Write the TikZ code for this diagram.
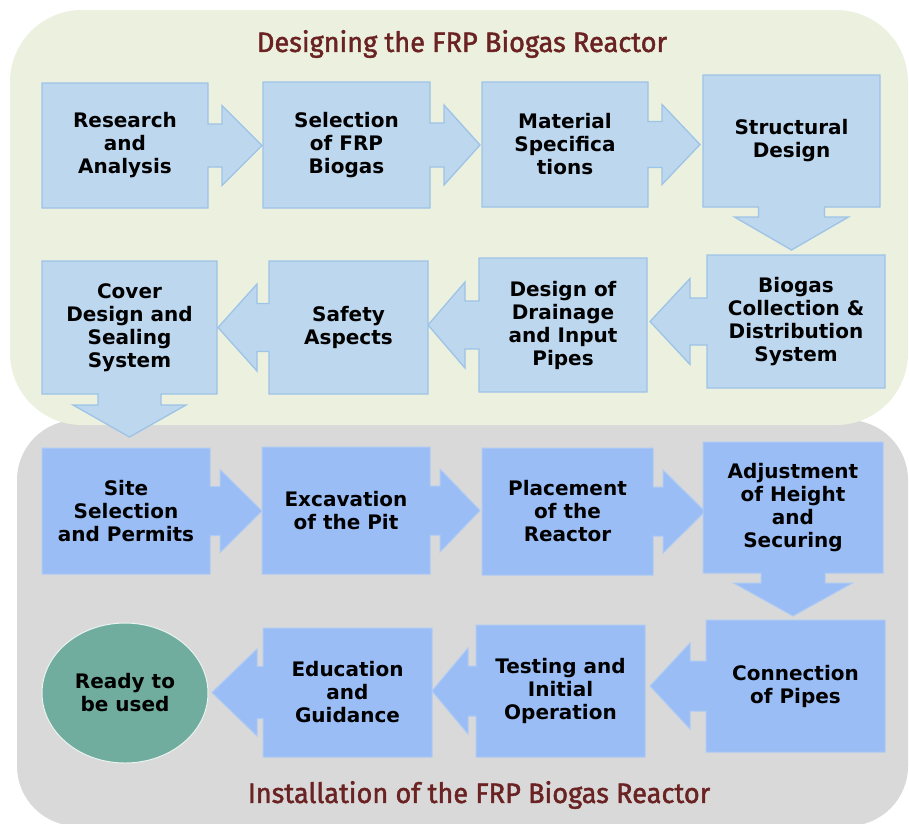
\documentclass[tikz,border=0pt]{standalone}
\usepackage{fontspec}
\setmainfont{DejaVu Sans}
\newfontfamily\titlefont[FakeStretch=0.97,FakeBold=1.6]{Fira Sans}
\usetikzlibrary{calc,shapes.geometric}

\definecolor{panelgreen}{HTML}{EBF1DE}
\definecolor{panelgray}{HTML}{D9D9D9}
\definecolor{boxblue}{HTML}{BDD7EE}
\definecolor{boxedge}{HTML}{9DC3E6}
\definecolor{boxdeep}{HTML}{9BBDF5}
\definecolor{boxdeepedge}{HTML}{AECBF5}
\definecolor{endteal}{HTML}{70AD9E}
\definecolor{titlered}{HTML}{6B2222}

\pgfdeclarelayer{panel}
\pgfdeclarelayer{shape}
\pgfsetlayers{panel,shape,main}

% Box with an arrow growing out of one side.
% #1 node, #2 shaft length, #3 head length, #4 shaft half width, #5 head half width, #6 style
\newcommand\calloutR[6]{%
  \path[#6] (#1.north west) -- (#1.north east)
    -- ($(#1.east)+(0pt,#4pt)$) -- ($(#1.east)+(#2pt,#4pt)$)
    -- ($(#1.east)+(#2pt,#5pt)$) -- ($(#1.east)+(#2pt+#3pt,0pt)$)
    -- ($(#1.east)+(#2pt,-#5pt)$) -- ($(#1.east)+(#2pt,-#4pt)$)
    -- ($(#1.east)+(0pt,-#4pt)$) -- (#1.south east) -- (#1.south west) -- cycle;}
\newcommand\calloutL[6]{%
  \path[#6] (#1.north east) -- (#1.north west)
    -- ($(#1.west)+(0pt,#4pt)$) -- ($(#1.west)+(-#2pt,#4pt)$)
    -- ($(#1.west)+(-#2pt,#5pt)$) -- ($(#1.west)+(-#2pt-#3pt,0pt)$)
    -- ($(#1.west)+(-#2pt,-#5pt)$) -- ($(#1.west)+(-#2pt,-#4pt)$)
    -- ($(#1.west)+(0pt,-#4pt)$) -- (#1.south west) -- (#1.south east) -- cycle;}
\newcommand\calloutD[6]{%
  \path[#6] (#1.north west) -- (#1.north east) -- (#1.south east)
    -- ($(#1.south)+(#4pt,0pt)$) -- ($(#1.south)+(#4pt,-#2pt)$)
    -- ($(#1.south)+(#5pt,-#2pt)$) -- ($(#1.south)+(0pt,-#2pt-#3pt)$)
    -- ($(#1.south)+(-#5pt,-#2pt)$) -- ($(#1.south)+(-#4pt,-#2pt)$)
    -- ($(#1.south)+(-#4pt,0pt)$) -- (#1.south west) -- cycle;}

\begin{document}
\begin{tikzpicture}[x=1pt,y=-1pt,
  stepbox/.style={rectangle, inner sep=0pt, outer sep=0pt, align=center,
    font=\fontsize{20}{23}\selectfont\bfseries, text=black},
  upper/.style={fill=boxblue, draw=boxedge, line width=1.3pt},
  lower/.style={fill=boxdeep, draw=boxdeepedge, line width=1pt},
  heading/.style={font=\titlefont\fontsize{28}{30}\selectfont, text=titlered}]

\useasboundingbox (0,0) rectangle (909,823);

% ---- process steps: design phase ----
\node[stepbox, minimum width=166pt, minimum height=125pt] (b1) at (125,145.5) {Research\\and\\Analysis};
\node[stepbox, minimum width=167pt, minimum height=126pt] (b2) at (346.5,145) {Selection\\of FRP\\Biogas};
\node[stepbox, minimum width=166pt, minimum height=125pt] (b3) at (565,144.5) {Material\\Specifica\\tions};
\node[stepbox, minimum width=177pt, minimum height=132pt] (b4) at (791.5,141) {Structural\\Design};
\node[stepbox, minimum width=178pt, minimum height=133pt] (b5) at (796,321.5) {Biogas\\Collection \&\\Distribution\\System};
\node[stepbox, minimum width=168pt, minimum height=134pt] (b6) at (563,325) {Design of\\Drainage\\and Input\\Pipes};
\node[stepbox, minimum width=159pt, minimum height=133pt] (b7) at (348.5,327.5) {Safety\\Aspects};
\node[stepbox, minimum width=175pt, minimum height=133pt] (b8) at (129.5,327.5) {Cover\\Design and\\Sealing\\System};

% ---- process steps: installation phase ----
\node[stepbox, minimum width=168pt, minimum height=126pt] (b9) at (126,511) {Site\\Selection\\and Permits};
\node[stepbox, minimum width=168pt, minimum height=127pt] (b10) at (346,510.5) {Excavation\\of the Pit};
\node[stepbox, minimum width=171pt, minimum height=127pt] (b11) at (567.5,511.5) {Placement\\of the\\Reactor};
\node[stepbox, minimum width=180pt, minimum height=131pt] (b12) at (793,507.5) {Adjustment\\of Height\\and\\Securing};
\node[stepbox, minimum width=179pt, minimum height=132pt] (b13) at (795.5,686) {Connection\\of Pipes};
\node[stepbox, minimum width=169pt, minimum height=132pt] (b14) at (560.5,691) {Testing and\\Initial\\Operation};
\node[stepbox, minimum width=169pt, minimum height=129pt] (b15) at (347.5,692.5) {Education\\and\\Guidance};
\node[ellipse, fill=endteal, draw=white!85!endteal, line width=1pt, inner sep=0pt,
  minimum width=166pt, minimum height=140pt, align=center,
  font=\fontsize{20}{23}\selectfont\bfseries] (done) at (125,693) {Ready to\\be used};

% ---- phase headings ----
\node[heading] (design) at (462,44) {Designing the FRP Biogas Reactor};
\node[heading] (install) at (479,795) {Installation of the FRP Biogas Reactor};

% ---- step shapes ----
\begin{pgfonlayer}{shape}
  \calloutR{b1}{14}{40}{21.5}{40}{upper}
  \calloutR{b2}{14}{36}{22}{40}{upper}
  \calloutR{b3}{14}{38}{23}{40}{upper}
  \calloutD{b4}{10}{33}{33}{57}{upper}
  \calloutL{b5}{17}{40}{23.5}{43}{upper}
  \calloutL{b6}{14}{37}{24}{43}{upper}
  \calloutL{b7}{12}{39}{24}{43.5}{upper}
  \calloutD{b8}{11}{32}{31.5}{56.5}{upper}
  \calloutR{b9}{10}{42}{24.5}{41.5}{lower}
  \calloutR{b10}{10}{40}{24.5}{41.5}{lower}
  \calloutR{b11}{10}{42}{24.5}{41.5}{lower}
  \calloutD{b12}{10}{33}{32}{59.5}{lower}
  \calloutL{b13}{16}{40}{25}{43}{lower}
  \calloutL{b14}{8}{36}{25}{43}{lower}
  \calloutL{b15}{6}{45}{26}{43.5}{lower}
\end{pgfonlayer}

% ---- phase panels ----
\begin{pgfonlayer}{panel}
  \fill[panelgray, rounded corners=60pt] (17,420) rectangle (908,826);
  \fill[panelgreen, rounded corners=72pt] (10,10) rectangle (908,425);
\end{pgfonlayer}
\end{tikzpicture}
\end{document}
